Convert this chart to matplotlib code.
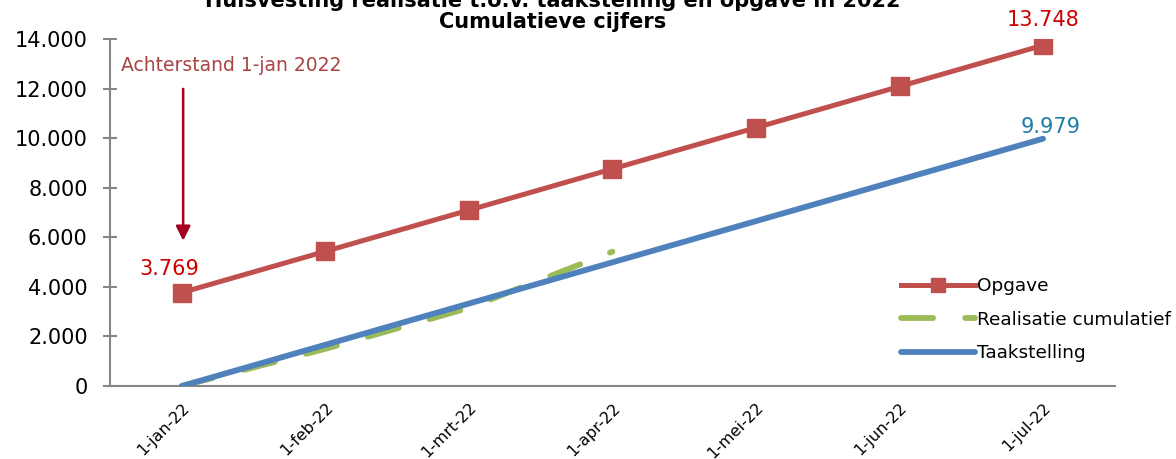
import matplotlib
matplotlib.use("Agg")
import matplotlib.pyplot as plt
import numpy as np

# data
maanden = ['1-jan-22', '1-feb-22', '1-mrt-22', '1-apr-22', '1-mei-22', '1-jun-22', '1-jul-22']
opgave = [3769, 5432, 7095, 8759, 10422, 12085, 13748]
realisatie = [0, 1500, 3150, 5420]
taakstelling = [0, 1663, 3326, 4990, 6653, 8316, 9979]
yticks = [0, 2000, 4000, 6000, 8000, 10000, 12000, 14000]
ytick_labels = ['0', '2.000', '4.000', '6.000', '8.000', '10.000', '12.000', '14.000']

plt.rcParams['font.family'] = ['DejaVu Sans']

fig = plt.figure(figsize=(11.76, 4.59), dpi=100)
ax = fig.add_axes([0.0935, 0.159, 0.8545, 0.756])

x = np.arange(len(maanden))

ax.plot(x, taakstelling, color='#4F81BD', lw=4.2, solid_capstyle='round', label='Taakstelling', zorder=3)
ax.plot(x[:len(realisatie)], realisatie, color='#9BBB59', lw=4.2, dashes=(5.5, 5.5),
        dash_capstyle='round', label='Realisatie cumulatief', zorder=2)
ax.plot(x, opgave, color='#C0504D', lw=3.6, marker='s', markersize=13,
        markeredgecolor='#C0504D', label='Opgave', zorder=4)

# data labels
ax.text(x[0] - 0.09, opgave[0] + 550, '3.769', color='#CC0000', fontsize=15, ha='center', va='bottom')
ax.text(x[-1], opgave[-1] + 600, '13.748', color='#CC0000', fontsize=15, ha='center', va='bottom')
ax.text(x[-1] + 0.05, taakstelling[-1] + 50, '9.979', color='#1F7BA8', fontsize=15, ha='center', va='bottom')

# annotation
ax.text(-0.42, 12950, 'Achterstand 1-jan 2022', color='#A94442', fontsize=13.5, ha='left', va='center')
ax.annotate('', xy=(x[0] + 0.01, 5750), xytext=(x[0] + 0.01, 12100),
            arrowprops=dict(arrowstyle='-|>', color='#A50021', lw=1.8, mutation_scale=22))

ax.set_xlim(-0.5, 6.5)
ax.set_ylim(0, 14000)
ax.set_yticks(yticks)
ax.set_yticklabels(ytick_labels, fontsize=15)
ax.set_xticks(x)
ax.set_xticklabels(maanden, rotation=45, ha='right', va='top', fontsize=11.5, rotation_mode='anchor')
ax.tick_params(axis='x', length=0, pad=10)
ax.tick_params(axis='y', direction='inout', length=10, color='#868686', width=1.5, pad=11)

for s in ['top', 'right']:
    ax.spines[s].set_visible(False)
for s in ['left', 'bottom']:
    ax.spines[s].set_color('#868686')
    ax.spines[s].set_linewidth(1.5)

handles, labels = ax.get_legend_handles_labels()
order = [2, 1, 0]
ax.legend([handles[i] for i in order], [labels[i] for i in order], loc='center left',
          bbox_to_anchor=(0.78, 0.191), frameon=False, fontsize=13.3, handlelength=4.0,
          handletextpad=0.1, labelspacing=0.85, borderaxespad=0, markerscale=0.8)

fig.text(0.47, 0.975, 'Huisvesting realisatie t.o.v. taakstelling en opgave in 2022\nCumulatieve cijfers',
         ha='center', va='center', fontsize=15, fontweight='bold', linespacing=1.1)

fig.savefig('out.png', dpi=100)
